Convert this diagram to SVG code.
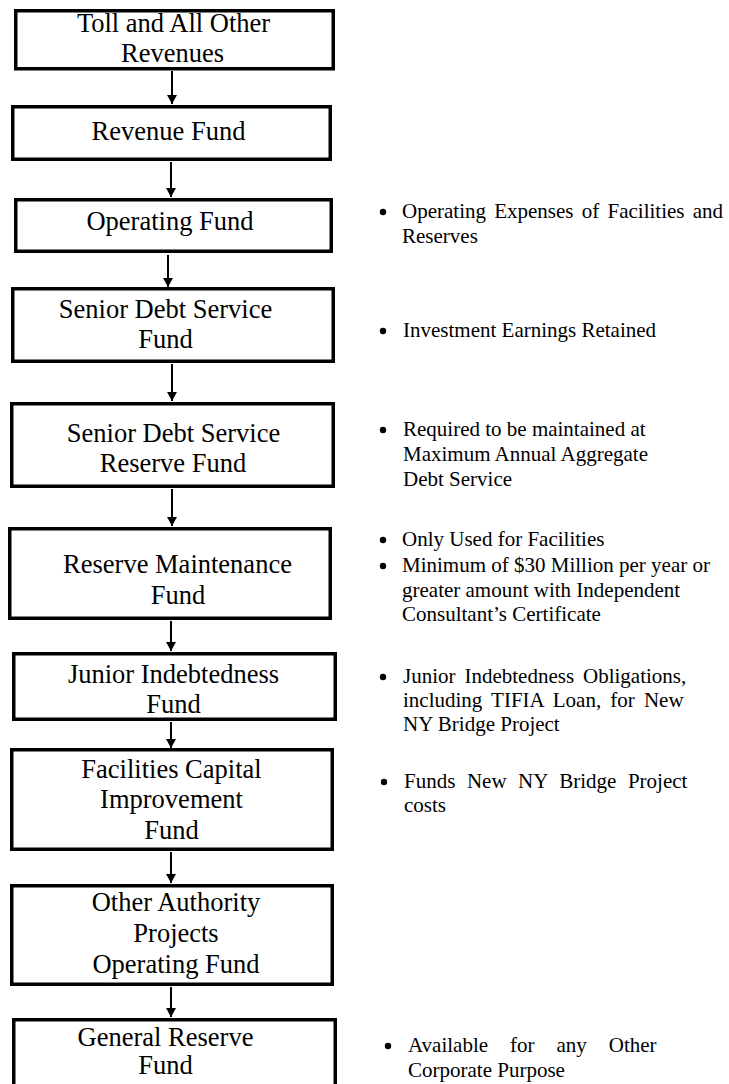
<svg xmlns="http://www.w3.org/2000/svg" width="729" height="1084" viewBox="0 0 729 1084">
<defs>
<style>
.box{fill:#fff;stroke:#000;stroke-width:3.5}
.bt{font-family:"Liberation Serif","Times New Roman",serif;font-size:26.5px;fill:#000;text-anchor:middle}
.nt{font-family:"Liberation Serif","Times New Roman",serif;font-size:21px;fill:#000}
.conn{stroke:#000;stroke-width:2;fill:none;marker-end:url(#ah)}
.dot{fill:#000}
</style>
<marker id="ah" markerUnits="userSpaceOnUse" markerWidth="10" markerHeight="10" refX="9" refY="5" orient="auto">
<path d="M0,0 L9,5 L0,10 Z" fill="#000"/>
</marker>
</defs>
<rect width="729" height="1084" fill="#fff"/>
<g id="connectors">
<line class="conn" x1="172" y1="71" x2="172" y2="104"/>
<line class="conn" x1="171" y1="162" x2="171" y2="197"/>
<line class="conn" x1="168" y1="255" x2="168" y2="287"/>
<line class="conn" x1="172" y1="364" x2="172" y2="401"/>
<line class="conn" x1="172" y1="489" x2="172" y2="526"/>
<line class="conn" x1="171" y1="621" x2="171" y2="651"/>
<line class="conn" x1="171" y1="722" x2="171" y2="748"/>
<line class="conn" x1="171" y1="852" x2="171" y2="883"/>
<line class="conn" x1="171" y1="987" x2="171" y2="1017"/>
</g>
<g id="n1"><rect class="box" x="15.75" y="10.75" width="317.5" height="58"/>
<text class="bt" x="173.5" y="32">Toll and All Other</text><text class="bt" x="172.5" y="62">Revenues</text></g>
<g id="n2"><rect class="box" x="12.75" y="106.75" width="317.5" height="52.5"/>
<text class="bt" x="168.5" y="140">Revenue Fund</text></g>
<g id="n3"><rect class="box" x="15.75" y="199.75" width="315.5" height="51.5"/>
<text class="bt" x="170" y="230">Operating Fund</text></g>
<g id="n4"><rect class="box" x="12.75" y="288.75" width="320.5" height="72.5"/>
<text class="bt" x="165.5" y="318">Senior Debt Service</text><text class="bt" x="165.5" y="348">Fund</text></g>
<g id="n5"><rect class="box" x="11.75" y="403.75" width="321.5" height="82.5"/>
<text class="bt" x="173.5" y="442">Senior Debt Service</text><text class="bt" x="173" y="472">Reserve Fund</text></g>
<g id="n6"><rect class="box" x="9.75" y="528.75" width="320.5" height="89.5"/>
<text class="bt" x="177.5" y="573">Reserve Maintenance</text><text class="bt" x="178" y="604">Fund</text></g>
<g id="n7"><rect class="box" x="13.75" y="653.75" width="321.5" height="65.5"/>
<text class="bt" x="173.5" y="683">Junior Indebtedness</text><text class="bt" x="173.5" y="713">Fund</text></g>
<g id="n8"><rect class="box" x="11.75" y="749.75" width="320.5" height="99.5"/>
<text class="bt" x="171.5" y="778">Facilities Capital</text><text class="bt" x="171.5" y="808">Improvement</text><text class="bt" x="171.5" y="839">Fund</text></g>
<g id="n9"><rect class="box" x="11.75" y="885.75" width="320.5" height="98.5"/>
<text class="bt" x="176" y="911">Other Authority</text><text class="bt" x="176" y="942">Projects</text><text class="bt" x="176" y="973">Operating Fund</text></g>
<g id="n10"><rect class="box" x="13.75" y="1019.75" width="321.5" height="80"/>
<text class="bt" x="165.5" y="1046">General Reserve</text><text class="bt" x="165.5" y="1074">Fund</text></g>
<g id="notes">
<circle class="dot" cx="383" cy="212" r="3.2"/>
<text class="nt" x="402" y="218" word-spacing="3">Operating Expenses of Facilities and</text>
<text class="nt" x="402" y="243">Reserves</text>
<circle class="dot" cx="383" cy="331" r="3.2"/>
<text class="nt" x="403" y="337">Investment Earnings Retained</text>
<circle class="dot" cx="383" cy="430" r="3.2"/>
<text class="nt" x="403" y="436">Required to be maintained at</text>
<text class="nt" x="403" y="461">Maximum Annual Aggregate</text>
<text class="nt" x="403" y="486">Debt Service</text>
<circle class="dot" cx="383" cy="540" r="3.2"/>
<text class="nt" x="402" y="546">Only Used for Facilities</text>
<circle class="dot" cx="383" cy="566" r="3.2"/>
<text class="nt" x="402" y="572">Minimum of $30 Million per year or</text>
<text class="nt" x="402" y="597">greater amount with Independent</text>
<text class="nt" x="402" y="621">Consultant’s Certificate</text>
<circle class="dot" cx="383" cy="677" r="3.2"/>
<text class="nt" x="403" y="683" word-spacing="3.7">Junior Indebtedness Obligations,</text>
<text class="nt" x="403" y="707" word-spacing="3.9">including TIFIA Loan, for New</text>
<text class="nt" x="403" y="731">NY Bridge Project</text>
<circle class="dot" cx="384" cy="782" r="3.2"/>
<text class="nt" x="404" y="788" word-spacing="6.3">Funds New NY Bridge Project</text>
<text class="nt" x="404" y="812">costs</text>
<circle class="dot" cx="388" cy="1046" r="3.2"/>
<text class="nt" x="408" y="1052" word-spacing="16.7">Available for any Other</text>
<text class="nt" x="408" y="1077">Corporate Purpose</text>
</g>
</svg>
